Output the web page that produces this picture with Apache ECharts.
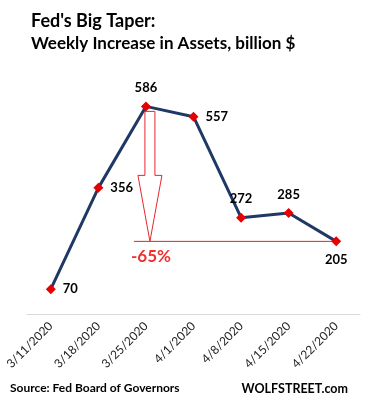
<!DOCTYPE html>
<html><head><meta charset="utf-8">
<script src="https://cdn.jsdelivr.net/npm/echarts@6/dist/echarts.min.js"></script>
<style>html,body{margin:0;padding:0;background:#fff}#c{width:371px;height:400px}</style>
</head><body><div id="c"></div>
<script>
const categories = ['3/11/2020','3/18/2020','3/25/2020','4/1/2020','4/8/2020','4/15/2020','4/22/2020'];
const values = [70, 356, 586, 557, 272, 285, 205];
const labelPos = ['right','right','top','right','top','top','bottom'];
const title1 = "Fed's Big Taper:";
const title2 = 'Weekly Increase in Assets, billion $';
const source = 'Source: Fed Board of Governors';
const brand = 'WOLFSTREET.com';
const changeText = '-65%';
const font = 'Lato, "Open Sans", sans-serif';

const chart = echarts.init(document.getElementById('c'));
const option = {
  animation: false,
  textStyle: {fontFamily: font},
  title: [
    {text: title1, left: 26, top: 7, textStyle: {fontSize: 18, fontWeight: 'bold', color: '#000', fontFamily: font}},
    {text: title2, left: 26, top: 30, textStyle: {fontSize: 17, fontWeight: 'bold', color: '#000', fontFamily: font}},
    {text: source, left: 5, top: 377, textStyle: {fontSize: 12, fontWeight: 'bold', color: '#000', fontFamily: font}},
    {text: brand, right: 18, top: 377, textStyle: {fontSize: 12.5, fontWeight: 'bold', color: '#000', fontFamily: font}}
  ],
  grid: {left: 27, right: 11, top: 66, height: 248},
  xAxis: {
    type: 'category', data: categories, boundaryGap: true,
    axisLine: {lineStyle: {color: '#d9d9d9', width: 1}},
    axisTick: {show: false},
    axisLabel: {rotate: 45, color: '#222', fontSize: 12, margin: 10, interval: 0, fontFamily: font}
  },
  yAxis: {type: 'value', min: 0, max: 700, show: false, splitLine: {show: false}},
  series: [{
    type: 'line', data: values.map((v,i)=>({value: v, label: {position: labelPos[i]}})),
    lineStyle: {color: '#203864', width: 3},
    symbol: 'diamond', symbolSize: 10,
    itemStyle: {color: '#e60000'},
    label: {show: true, color: '#000', fontSize: 13, fontWeight: 'bold', distance: 7, fontFamily: font},
    z: 3
  }]
};
chart.setOption(option);

// annotation: arrow from peak down to last value level, with horizontal reference line
const peakIdx = values.indexOf(Math.max(...values));
const lastIdx = values.length - 1;
const pTop = chart.convertToPixel({seriesIndex: 0}, [peakIdx, values[peakIdx]]);
const pLast = chart.convertToPixel({seriesIndex: 0}, [lastIdx, values[lastIdx]]);
const cx = pTop[0] + 4, topY = pTop[1] + 5, tipY = pLast[1];
const shaftBottom = topY + 64;
const pts = [[cx-5, topY],[cx+5, topY],[cx+5, shaftBottom],[cx+12, shaftBottom],[cx, tipY],[cx-12, shaftBottom],[cx-5, shaftBottom]];
chart.setOption({
  graphic: [
    {type: 'polygon', shape: {points: pts}, style: {fill: 'none', stroke: '#e8262b', lineWidth: 1}, z: 1},
    {type: 'line', shape: {x1: pTop[0]-12, y1: tipY, x2: pLast[0], y2: tipY}, style: {stroke: '#d9262b', lineWidth: 1}, z: 1},
    {type: 'text', x: cx - 19, y: tipY + 7, style: {text: changeText, fill: '#f03030', fontSize: 17, fontWeight: 'bold', fontFamily: font}, z: 1}
  ]
});
</script></body></html>
